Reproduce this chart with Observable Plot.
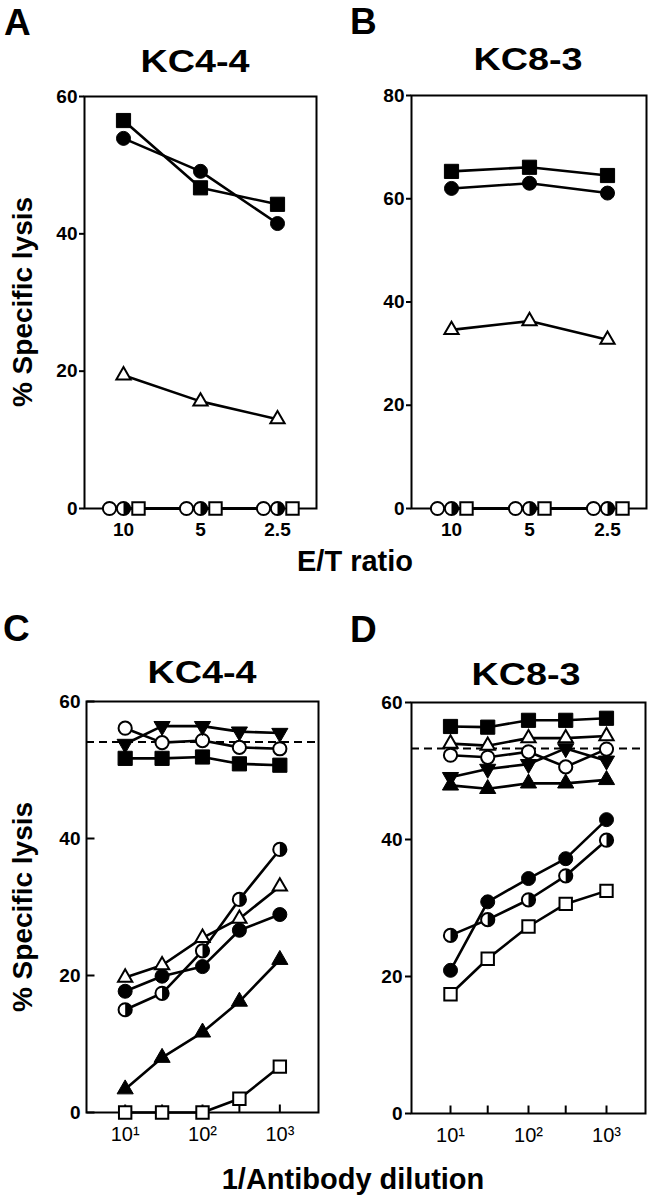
<!DOCTYPE html>
<html>
<head>
<meta charset="utf-8">
<script src="https://cdn.jsdelivr.net/npm/d3@7"></script>
<script src="https://cdn.jsdelivr.net/npm/@observablehq/plot@0.6"></script>
<style>
html, body { margin: 0; padding: 0; background: #fff; }
#fig { position: relative; width: 656px; height: 1199px; overflow: hidden;
  font-family: "Liberation Sans", Arial, Helvetica, sans-serif; color: #000; background: #fff; }
.lbl { position: absolute; white-space: nowrap; line-height: 1; font-weight: bold; }
</style>
</head>
<body>
<div id="fig"></div>
<script>
// ---------------- DATA ----------------
// Panels A/B: x = E/T ratio (categorical)
const etRatio = ["10", "5", "2.5"];
// A: KC4-4
const A_filledSquare   = [56.5, 46.7, 44.3];
const A_filledCircle   = [53.9, 49.1, 41.5];
const A_openTriangle   = [19.4, 15.6, 13.0];
const A_openCircle     = [0, 0, 0];
const A_halfCircle     = [0, 0, 0];
const A_openSquare     = [0, 0, 0];
// B: KC8-3
const B_filledSquare   = [65.3, 66.1, 64.5];
const B_filledCircle   = [62.0, 63.0, 61.1];
const B_openTriangle   = [34.6, 36.3, 32.7];
const B_openCircle     = [0, 0, 0];
const B_halfCircle     = [0, 0, 0];
const B_openSquare     = [0, 0, 0];

// Panels C/D: x = 1/antibody dilution (log)
const dilution = [10, 30, 100, 300, 1000];
const logTickValues = [10, 100, 1000];
// C: KC4-4
const C_openCircle      = [56.1, 54.0, 54.3, 53.3, 53.1];
const C_filledInvTri    = [53.8, 56.4, 56.4, 55.6, 55.4];
const C_filledSquare    = [51.7, 51.7, 51.9, 50.9, 50.7];
const C_halfCircle      = [15.0, 17.4, 23.6, 31.1, 38.4];
const C_openTriangle    = [19.7, 21.5, 25.5, 28.3, 33.0];
const C_filledCircle    = [17.7, 19.9, 21.3, 26.6, 28.9];
const C_filledTriangle  = [3.4, 8.0, 11.7, 16.2, 22.3];
const C_openSquare      = [0, 0, 0, 2.0, 6.7];
const C_reference       = [54.1];
// D: KC8-3
const D_filledSquare    = [56.5, 56.4, 57.4, 57.4, 57.7];
const D_openTriangle    = [54.0, 53.7, 54.8, 54.8, 55.1];
const D_openCircle      = [52.3, 52.0, 52.8, 50.6, 53.2];
const D_filledInvTri    = [49.1, 50.3, 51.0, 53.3, 51.5];
const D_filledTriangle  = [47.9, 47.4, 48.2, 48.2, 48.7];
const D_filledCircle    = [20.9, 30.9, 34.3, 37.2, 42.9];
const D_halfCircle      = [26.0, 28.3, 31.2, 34.7, 39.9];
const D_openSquare      = [17.4, 22.6, 27.3, 30.6, 32.5];
const D_reference       = [53.3];

const yTicksAC = [0, 20, 40, 60];
const yTicksB = [0, 20, 40, 60, 80];

// ---------------- HELPERS ----------------
const fig = document.getElementById("fig");
const FONT = '"Liberation Sans", Arial, Helvetica, sans-serif';
const pts = (xs, ys) => xs.map((x, i) => ({x, y: ys[i]}));

const halfRight = {draw(c, size) { const r = Math.sqrt(size / Math.PI); c.moveTo(0, -r); c.arc(0, 0, r, -Math.PI / 2, Math.PI / 2); c.closePath(); }};
const triDown = {draw(c, size) { const y = -Math.sqrt(size / (3 * Math.sqrt(3))); c.moveTo(0, -2 * y); c.lineTo(-Math.sqrt(3) * y, y); c.lineTo(Math.sqrt(3) * y, y); c.closePath(); }};
const tickUp = {draw(c) { c.moveTo(0, 0); c.lineTo(0, -8); }};
const tickIn = {draw(c) { c.moveTo(0, 0); c.lineTo(8, 0); }};

const STYLE = {
  filledSquare:   [{symbol: "square", r: 8, fill: "black", stroke: "black", strokeWidth: 1}],
  openSquare:     [{symbol: "square", r: 7, fill: "white", stroke: "black", strokeWidth: 2}],
  filledCircle:   [{symbol: "circle", r: 7, fill: "black", stroke: "black", strokeWidth: 1}],
  openCircle:     [{symbol: "circle", r: 6.6, fill: "white", stroke: "black", strokeWidth: 2}],
  halfCircle:     [{symbol: "circle", r: 6.6, fill: "white", stroke: "black", strokeWidth: 2},
                   {symbol: halfRight, r: 6.6, fill: "black", stroke: "none"}],
  openTriangle:   [{symbol: "triangle", r: 5.3, fill: "white", stroke: "black", strokeWidth: 2}],
  filledTriangle: [{symbol: "triangle", r: 6, fill: "black", stroke: "black", strokeWidth: 1}],
  filledInvTri:   [{symbol: triDown, r: 6, fill: "black", stroke: "black", strokeWidth: 1}]
};
const dots = (data, kind, dx = 0) => STYLE[kind].map(s => Plot.dot(data, {x: "x", y: "y", dx, ...s}));
const line = (data) => Plot.line(data, {x: "x", y: "y", stroke: "black", strokeWidth: 2.6});

const supers = {1: "\u00b9", 2: "\u00b2", 3: "\u00b3"};
const powFmt = d => "10" + supers[Math.round(Math.log10(d))];

function panel({left, top, width, height, mL, mR, mT, mB, x, y, marks}) {
  const svg = Plot.plot({
    width, height, marginLeft: mL, marginRight: mR, marginTop: mT, marginBottom: mB,
    x, y,
    style: {background: "transparent", fontFamily: FONT, fontSize: "19px", fontWeight: "bold", color: "black", overflow: "visible"},
    marks
  });
  svg.style.position = "absolute";
  svg.style.left = left + "px";
  svg.style.top = top + "px";
  fig.appendChild(svg);
}

function text(str, {x, base, size, anchor = "start", weight = "bold", sx = 1, rotate = false}) {
  const d = document.createElement("div");
  d.className = "lbl";
  d.textContent = str;
  d.style.fontSize = size + "px";
  d.style.fontWeight = weight;
  if (rotate) {
    d.style.left = x + "px";
    d.style.top = base + "px";
    d.style.transformOrigin = "0 0";
    d.style.transform = `rotate(-90deg) translate(-50%, ${-0.8465 * size}px)`;
  } else {
    d.style.top = (base - 0.8465 * size) + "px";
    d.style.left = x + "px";
    if (anchor === "middle") {
      d.style.transformOrigin = "50% 0";
      d.style.transform = `translateX(-50%) scaleX(${sx})`;
    }
  }
  fig.appendChild(d);
}

// ---------------- PANELS A & B ----------------
function etPanel(pos, yDomain, yTicks, S, C, T, OC, HC, OS) {
  const s = pts(etRatio, S), c = pts(etRatio, C), t = pts(etRatio, T);
  const oc = pts(etRatio, OC), hc = pts(etRatio, HC), os = pts(etRatio, OS);
  panel({
    ...pos,
    x: {type: "point", domain: etRatio, padding: 0.5},
    y: {domain: yDomain},
    marks: [
      Plot.frame({stroke: "black", strokeWidth: 2}),
      Plot.axisX({tickSize: 0, tickPadding: 14, fontSize: 19, fontWeight: "bold", label: null}),
      Plot.axisY({ticks: yTicks, tickSize: 5, tickPadding: 2, strokeWidth: 2, fontSize: 19, fontWeight: "bold", label: null}),
      line(s), line(c), line(t), line(oc), line(hc), line(os),
      ...dots(s, "filledSquare"), ...dots(c, "filledCircle"), ...dots(t, "openTriangle"),
      ...dots(oc, "openCircle", -14), ...dots(hc, "halfCircle", 0), ...dots(os, "openSquare", 15)
    ]
  });
}

etPanel({left: 0, top: 80, width: 330, height: 480, mL: 84, mR: 14, mT: 16, mB: 52},
  [0, 60], yTicksAC, A_filledSquare, A_filledCircle, A_openTriangle, A_openCircle, A_halfCircle, A_openSquare);
etPanel({left: 330, top: 80, width: 326, height: 480, mL: 81, mR: 10, mT: 15, mB: 52},
  [0, 80], yTicksB, B_filledSquare, B_filledCircle, B_openTriangle, B_openCircle, B_halfCircle, B_openSquare);

// ---------------- PANELS C & D ----------------
function dilPanel(pos, series, ref, yTickInside) {
  const lines = series.map(([vals]) => line(pts(dilution, vals)));
  const marks = series.flatMap(([vals, kind]) => dots(pts(dilution, vals), kind));
  panel({
    ...pos,
    x: {type: "log", domain: [Math.pow(10, 0.5), Math.pow(10, 3.5)]},
    y: {domain: [0, 60]},
    marks: [
      Plot.frame({stroke: "black", strokeWidth: 2}),
      Plot.axisX({ticks: logTickValues, tickFormat: powFmt, tickSize: 0, tickPadding: 14, fontSize: 20, fontWeight: "normal", label: null}),
      Plot.dot(dilution, {x: d => d, frameAnchor: "bottom", symbol: tickUp, stroke: "black", strokeWidth: 2, fill: "none"}),
      yTickInside
        ? Plot.axisY({ticks: yTicksAC, tickSize: 0, tickPadding: 6, fontSize: 19, fontWeight: "bold", label: null})
        : Plot.axisY({ticks: yTicksAC, tickSize: 6, tickPadding: 3, strokeWidth: 2, fontSize: 19, fontWeight: "bold", label: null}),
      yTickInside ? Plot.dot(yTicksAC, {y: d => d, frameAnchor: "left", symbol: tickIn, stroke: "black", strokeWidth: 2, fill: "none"}) : null,
      Plot.ruleY(ref, {stroke: "black", strokeWidth: 2, strokeDasharray: "8,5"}),
      ...lines,
      ...marks
    ]
  });
}

dilPanel({left: 0, top: 690, width: 330, height: 470, mL: 86, mR: 12, mT: 11, mB: 48}, [
  [C_filledSquare, "filledSquare"],
  [C_openCircle, "openCircle"],
  [C_filledInvTri, "filledInvTri"],
  [C_filledTriangle, "filledTriangle"],
  [C_openSquare, "openSquare"],
  [C_filledCircle, "filledCircle"],
  [C_openTriangle, "openTriangle"],
  [C_halfCircle, "halfCircle"]
], C_reference, true);

dilPanel({left: 330, top: 690, width: 326, height: 470, mL: 81, mR: 11, mT: 12, mB: 47}, [
  [D_filledTriangle, "filledTriangle"],
  [D_filledInvTri, "filledInvTri"],
  [D_openCircle, "openCircle"],
  [D_openTriangle, "openTriangle"],
  [D_filledSquare, "filledSquare"],
  [D_openSquare, "openSquare"],
  [D_halfCircle, "halfCircle"],
  [D_filledCircle, "filledCircle"]
], D_reference, false);

// ---------------- TEXT ----------------
text("A", {x: 4, base: 35, size: 37});
text("B", {x: 350, base: 34, size: 37});
text("C", {x: 3, base: 641, size: 37});
text("D", {x: 350, base: 642, size: 37});
text("KC4-4", {x: 195, base: 72, size: 32, anchor: "middle", sx: 1.18});
text("KC8-3", {x: 528, base: 70, size: 32, anchor: "middle", sx: 1.18});
text("KC4-4", {x: 202, base: 683, size: 32, anchor: "middle", sx: 1.18});
text("KC8-3", {x: 526, base: 685, size: 32, anchor: "middle", sx: 1.18});
text("E/T ratio", {x: 355, base: 572, size: 29, anchor: "middle"});
text("1/Antibody dilution", {x: 353, base: 1190, size: 29, anchor: "middle"});
text("% Specific lysis", {x: 33, base: 302, size: 28, rotate: true});
text("% Specific lysis", {x: 33, base: 907, size: 28, rotate: true});
</script>
</body>
</html>
